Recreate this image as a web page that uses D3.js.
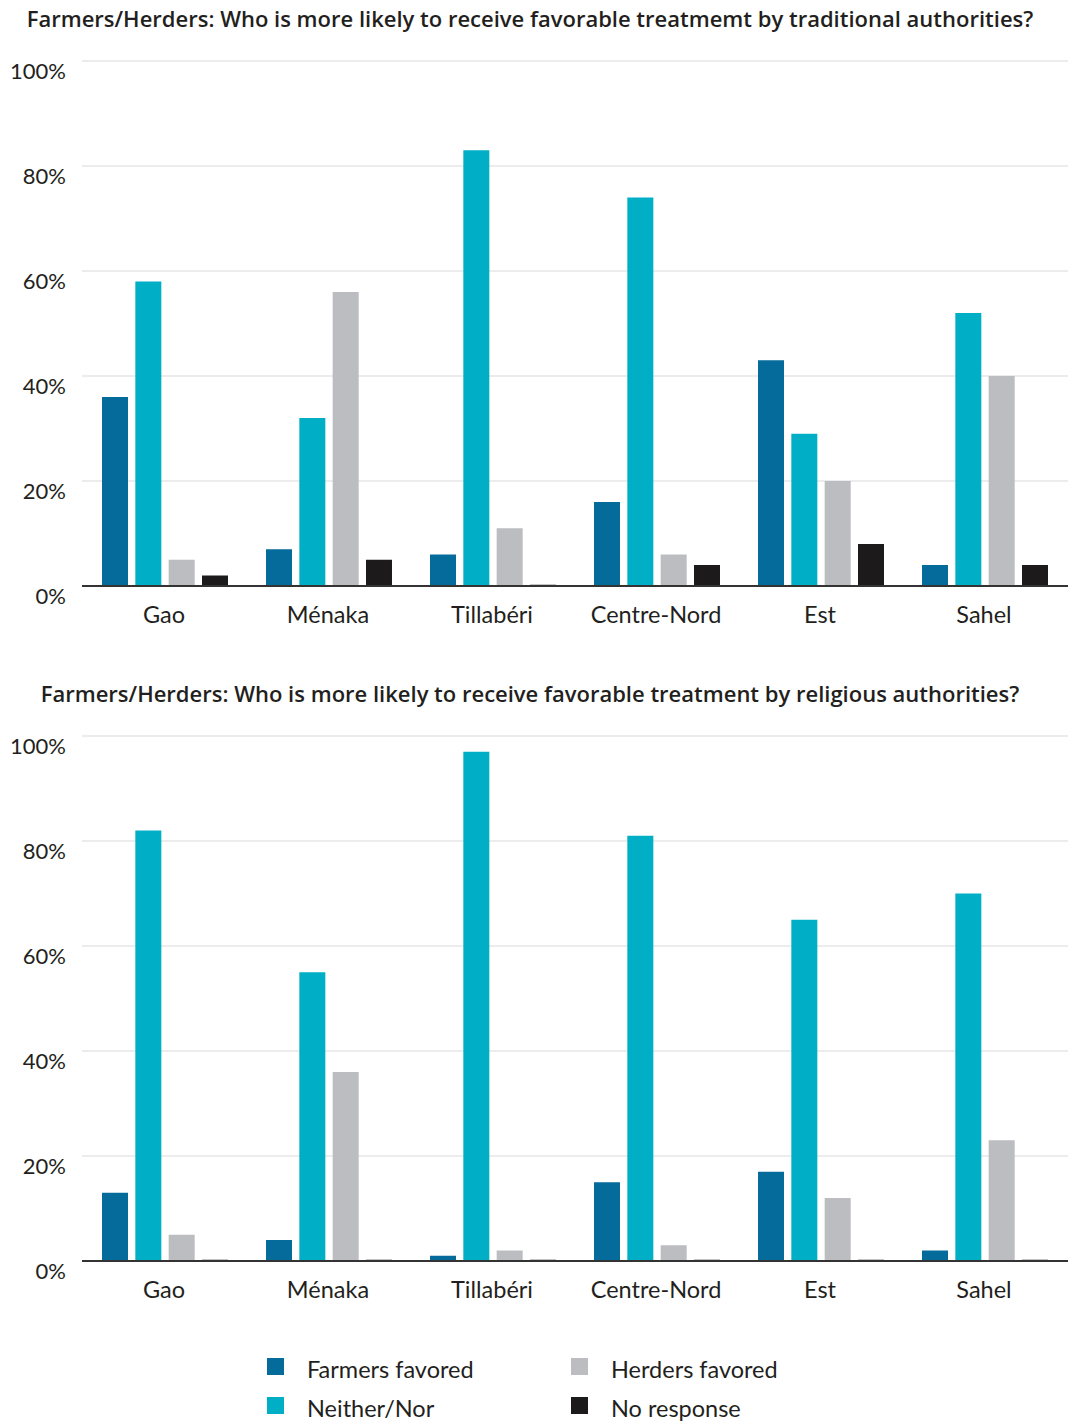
<!DOCTYPE html>
<html>
<head>
<meta charset="utf-8">
<script src="https://cdn.jsdelivr.net/npm/d3@7"></script>
<style>
  html, body { margin: 0; padding: 0; background: #fff; }
  svg { display: block; font-family: Lato, "Noto Sans", sans-serif; }
</style>
</head>
<body>
<svg id="chart" width="1068" height="1425"></svg>
<script>
const regions = ["Gao", "Ménaka", "Tillabéri", "Centre-Nord", "Est", "Sahel"];
const seriesNames = ["Farmers favored", "Neither/Nor", "Herders favored", "No response"];
const seriesColors = ["#046b9b", "#00aec5", "#bcbdc1", "#1c1a1b"];
const yTicks = [0, 20, 40, 60, 80, 100];

const title1 = "Farmers/Herders: Who is more likely to receive favorable treatmemt by traditional authorities?";
const trad_farmers = [36, 7, 6, 16, 43, 4];
const trad_neither = [58, 32, 83, 74, 29, 52];
const trad_herders = [5, 56, 11, 6, 20, 40];
const trad_noresp  = [2, 5, 0, 4, 8, 4];

const title2 = "Farmers/Herders: Who is more likely to receive favorable treatment by religious authorities?";
const rel_farmers = [13, 4, 1, 15, 17, 2];
const rel_neither = [82, 55, 97, 81, 65, 70];
const rel_herders = [5, 36, 2, 3, 12, 23];
const rel_noresp  = [0, 0, 0, 0, 0, 0];

const svg = d3.select("#chart");

function drawChart(title, series, top) {
  const g = svg.append("g").attr("transform", `translate(0,${top})`);
  const x0 = 82, x1 = 1068, xEnd = 1066;
  const yTop = 61, yBot = 586;

  g.append("text")
    .attr("x", 530).attr("y", 27)
    .attr("text-anchor", "middle")
    .attr("font-family", "'Open Sans', sans-serif")
    .attr("font-size", 22).attr("font-weight", 600)
    .attr("fill", "#231f20")
    .text(title);

  const x = d3.scaleBand().domain(regions).range([x0, xEnd]).paddingInner(0).paddingOuter(0);
  const xs = d3.scaleBand().domain(seriesNames).range([20, x.bandwidth() - 18]).paddingInner(0.22);
  const y = d3.scaleLinear().domain([0, 100]).range([yBot, yTop]);

  g.append("g").selectAll("line").data(yTicks.filter(d => d > 0)).join("line")
    .attr("x1", x0).attr("x2", x1)
    .attr("y1", d => y(d)).attr("y2", d => y(d))
    .attr("stroke", "#d9d9d9").attr("stroke-width", 1);

  g.append("g").selectAll("text").data(yTicks).join("text")
    .attr("x", 66).attr("y", d => y(d) + 18)
    .attr("text-anchor", "end")
    .attr("font-size", 22).attr("fill", "#231f20")
    .text(d => d + "%");

  const groups = g.append("g").selectAll("g").data(regions).join("g")
    .attr("transform", d => `translate(${x(d)},0)`);
  groups.selectAll("rect").data((d, i) => series.map((s, k) => ({ key: seriesNames[k], value: s[i], color: seriesColors[k] })))
    .join("rect")
    .attr("x", d => xs(d.key))
    .attr("width", xs.bandwidth())
    .attr("y", d => Math.min(y(d.value), yBot - 1.5))
    .attr("height", d => Math.max(yBot - y(d.value), 1.5))
    .attr("fill", d => d.value === 0 ? "#8a8a8c" : d.color);

  g.append("line")
    .attr("x1", x0).attr("x2", x1)
    .attr("y1", yBot).attr("y2", yBot)
    .attr("stroke", "#333").attr("stroke-width", 2);

  g.append("g").selectAll("text").data(regions).join("text")
    .attr("x", d => x(d) + x.bandwidth() / 2)
    .attr("y", yBot + 37)
    .attr("text-anchor", "middle")
    .attr("font-size", 23.5).attr("fill", "#231f20")
    .text(d => d);
}

drawChart(title1, [trad_farmers, trad_neither, trad_herders, trad_noresp], 0);
drawChart(title2, [rel_farmers, rel_neither, rel_herders, rel_noresp], 675);

const legend = svg.append("g");
const legendPos = [[267, 1358], [267, 1397], [571, 1358], [571, 1397]];
const order = [0, 1, 2, 3];
const li = legend.selectAll("g").data(order).join("g")
  .attr("transform", (d, i) => `translate(${legendPos[i][0]},${legendPos[i][1]})`);
li.append("rect").attr("width", 17).attr("height", 17).attr("fill", d => seriesColors[d]);
li.append("text").attr("x", 40).attr("y", 20).attr("font-size", 23.5).attr("fill", "#231f20")
  .text(d => seriesNames[d]);
</script>
</body>
</html>
